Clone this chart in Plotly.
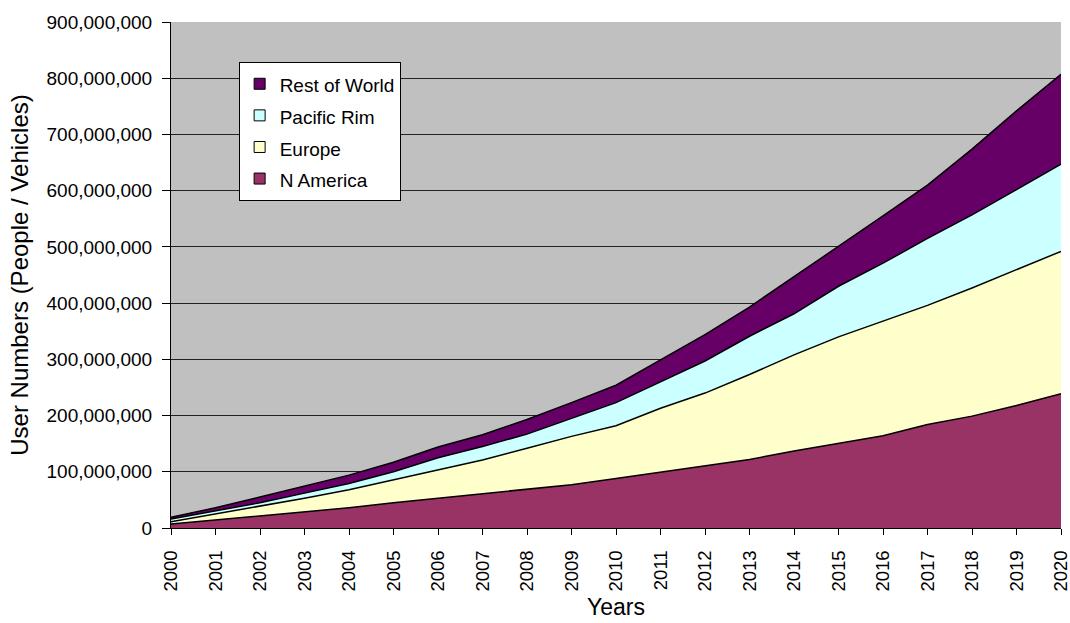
import plotly.graph_objects as go

years = list(range(2000, 2021))
n_america = [7, 14, 21, 29, 36, 45, 53, 60, 68, 77, 88, 99, 110, 122, 137, 150, 164, 184, 199, 218, 239]
europe = [4, 11, 17, 24, 32, 41, 50, 61, 74, 86, 94, 114, 130, 151, 171, 190, 204, 212, 228, 242, 253]
pacific_rim = [5, 5, 7, 9, 11, 14, 22, 24, 25, 32, 41, 47, 57, 68, 73, 90, 103, 119, 130, 142, 155]
rest_of_world = [3, 6, 10, 12, 15, 17, 19, 21, 26, 28, 31, 39, 47, 52, 66, 70, 84, 95, 117, 140, 160]

series = [
    ("N America", n_america, "#993366"),
    ("Europe", europe, "#FFFFCC"),
    ("Pacific Rim", pacific_rim, "#CCFFFF"),
    ("Rest of World", rest_of_world, "#660066"),
]

fig = go.Figure()
for name, vals, color in series:
    fig.add_trace(go.Scatter(
        x=years, y=[v * 1_000_000 for v in vals], name=name,
        mode="lines", stackgroup="one",
        line=dict(color="black", width=1.5),
        fillcolor=color, showlegend=False,
    ))
# legend-only square swatches
for name, vals, color in series:
    fig.add_trace(go.Scatter(
        x=[None], y=[None], mode="markers",
        name=f'<span style="font-size:19px">{name}</span>',
        marker=dict(symbol="square", size=11, color=color,
                    line=dict(color="black", width=1)),
    ))

font = "Liberation Sans, Arial, sans-serif"
fig.update_layout(
    width=1070, height=623,
    margin=dict(l=171, r=9, t=22, b=95),
    paper_bgcolor="white", plot_bgcolor="#C0C0C0",
    font=dict(family=font, color="black", size=19),
    showlegend=True,
    legend=dict(
        x=0.076, y=0.921, xanchor="left", yanchor="top",
        bgcolor="white", bordercolor="black", borderwidth=1,
        traceorder="reversed", font=dict(size=22),
        itemwidth=30,
    ),
    xaxis=dict(
        range=[1999.9999, 2020.0001], tickmode="linear", tick0=2000, dtick=1, tickangle=-90,
        showgrid=False, showline=True, linecolor="black", linewidth=1,
        ticks="outside", ticklen=6, tickcolor="black",
        ticklabelstandoff=8, ticklabeloverflow="allow", automargin=False,
        tickfont=dict(size=18.5),
        title=dict(text="Years", font=dict(size=23), standoff=8),
        zeroline=False,
    ),
    yaxis=dict(
        range=[0, 900_000_000], dtick=100_000_000, tickformat=",d",
        showgrid=True, gridcolor="#222222", gridwidth=1,
        showline=True, linecolor="black", linewidth=1,
        ticks="outside", ticklen=8, tickcolor="black",
        ticklabelstandoff=6,
        tickfont=dict(size=19),
        title=dict(text="User Numbers (People / Vehicles)", font=dict(size=24), standoff=11),
        zeroline=False,
    ),
)

fig.write_html("out.html")
